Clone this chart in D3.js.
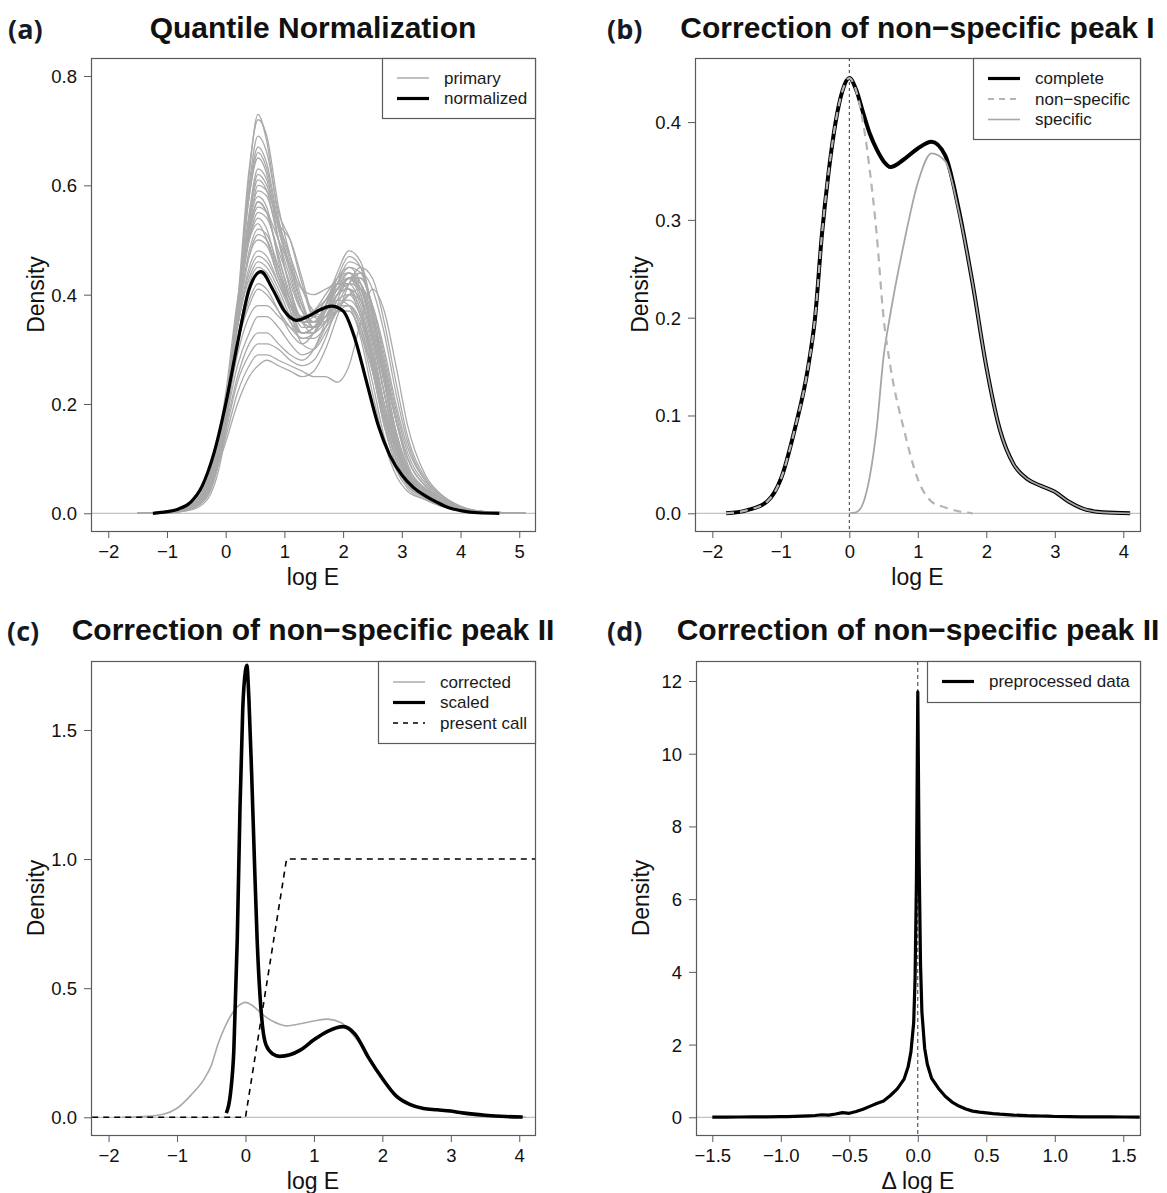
<!DOCTYPE html>
<html>
<head>
<meta charset="utf-8">
<script src="https://cdn.jsdelivr.net/npm/d3@7"></script>
<style>
  body { margin: 0; background: #fff; }
  svg { display: block; }
</style>
</head>
<body>
<svg id="fig" width="1167" height="1193"></svg>
<script>
// ---------------------------------------------------------------
// (a) Quantile normalization: raw array densities + normalized one
// ---------------------------------------------------------------
const primaryGrid = [-1.5,-1.0,-0.7,-0.45,-0.2,0.0,0.2,0.4,0.55,0.7,0.9,1.1,1.3,1.5,1.7,1.9,2.1,2.3,2.5,2.7,2.9,3.1,3.4,3.7,4.0,4.4,5.1];
const primaryDensities = [
  [0,0.001,0.004,0.012,0.05,0.15,0.36,0.62,0.73,0.68,0.54,0.46,0.38,0.35,0.37,0.39,0.38,0.32,0.22,0.13,0.07,0.04,0.025,0.012,0.005,0.001,0],
  [0,0.001,0.005,0.015,0.06,0.17,0.38,0.63,0.72,0.69,0.56,0.47,0.39,0.34,0.35,0.37,0.37,0.33,0.24,0.14,0.08,0.045,0.025,0.012,0.005,0.001,0],
  [0,0.001,0.005,0.016,0.06,0.16,0.36,0.60,0.69,0.66,0.55,0.50,0.42,0.36,0.36,0.38,0.38,0.34,0.26,0.16,0.09,0.05,0.028,0.014,0.006,0.001,0],
  [0,0.002,0.006,0.018,0.07,0.18,0.38,0.58,0.66,0.63,0.52,0.44,0.37,0.34,0.36,0.39,0.40,0.36,0.27,0.17,0.10,0.055,0.03,0.015,0.006,0.001,0],
  [0,0.002,0.006,0.02,0.07,0.18,0.37,0.55,0.63,0.61,0.52,0.45,0.38,0.35,0.37,0.40,0.41,0.37,0.28,0.18,0.10,0.055,0.03,0.015,0.006,0.001,0],
  [0,0.002,0.007,0.022,0.08,0.19,0.37,0.54,0.61,0.59,0.50,0.41,0.35,0.34,0.37,0.41,0.43,0.40,0.31,0.20,0.11,0.06,0.032,0.016,0.006,0.001,0],
  [0,0.002,0.006,0.02,0.075,0.19,0.37,0.53,0.59,0.58,0.50,0.43,0.37,0.35,0.38,0.42,0.44,0.41,0.33,0.22,0.12,0.065,0.035,0.017,0.007,0.002,0],
  [0,0.002,0.007,0.024,0.085,0.20,0.38,0.52,0.57,0.55,0.47,0.40,0.35,0.34,0.38,0.43,0.45,0.42,0.33,0.22,0.12,0.065,0.035,0.017,0.007,0.002,0],
  [0,0.002,0.007,0.022,0.08,0.19,0.36,0.50,0.55,0.54,0.48,0.42,0.37,0.36,0.39,0.42,0.42,0.38,0.29,0.19,0.11,0.06,0.033,0.016,0.007,0.002,0],
  [0,0.002,0.008,0.025,0.09,0.20,0.37,0.50,0.54,0.52,0.44,0.38,0.33,0.33,0.37,0.42,0.46,0.45,0.37,0.25,0.14,0.07,0.035,0.017,0.007,0.002,0],
  [0,0.002,0.007,0.022,0.08,0.19,0.35,0.48,0.52,0.51,0.45,0.39,0.35,0.35,0.38,0.41,0.43,0.41,0.34,0.24,0.14,0.075,0.04,0.02,0.008,0.002,0],
  [0,0.002,0.008,0.025,0.085,0.20,0.35,0.47,0.50,0.49,0.43,0.38,0.35,0.36,0.39,0.42,0.43,0.39,0.30,0.20,0.12,0.065,0.036,0.018,0.008,0.002,0],
  [0,0.002,0.006,0.019,0.07,0.17,0.35,0.52,0.60,0.59,0.53,0.47,0.41,0.37,0.36,0.37,0.37,0.33,0.26,0.18,0.12,0.075,0.045,0.025,0.01,0.003,0],
  [0,0.002,0.006,0.02,0.07,0.17,0.35,0.54,0.62,0.60,0.53,0.50,0.43,0.36,0.35,0.37,0.38,0.35,0.27,0.17,0.10,0.055,0.03,0.015,0.006,0.001,0],
  [0,0.002,0.008,0.026,0.09,0.20,0.34,0.45,0.48,0.47,0.42,0.37,0.33,0.33,0.37,0.41,0.44,0.42,0.35,0.25,0.15,0.08,0.04,0.02,0.008,0.002,0],
  [0,0.003,0.009,0.028,0.095,0.20,0.34,0.43,0.46,0.45,0.41,0.36,0.33,0.34,0.38,0.43,0.47,0.45,0.36,0.24,0.13,0.07,0.036,0.018,0.008,0.002,0],
  [0,0.003,0.009,0.027,0.09,0.19,0.32,0.41,0.44,0.43,0.39,0.35,0.33,0.34,0.38,0.42,0.45,0.44,0.37,0.27,0.17,0.09,0.045,0.022,0.009,0.002,0],
  [0,0.003,0.009,0.028,0.09,0.19,0.31,0.39,0.42,0.41,0.37,0.33,0.31,0.33,0.38,0.44,0.48,0.46,0.37,0.25,0.14,0.07,0.035,0.017,0.007,0.002,0],
  [0,0.003,0.01,0.03,0.095,0.19,0.31,0.38,0.41,0.40,0.37,0.34,0.32,0.33,0.36,0.40,0.42,0.41,0.35,0.26,0.17,0.10,0.05,0.025,0.01,0.003,0],
  [0,0.002,0.007,0.022,0.075,0.17,0.31,0.42,0.45,0.44,0.40,0.35,0.32,0.32,0.34,0.37,0.40,0.41,0.38,0.30,0.20,0.12,0.06,0.03,0.012,0.003,0],
  [0,0.003,0.01,0.03,0.085,0.16,0.25,0.31,0.33,0.33,0.31,0.29,0.28,0.30,0.35,0.40,0.43,0.43,0.38,0.29,0.19,0.11,0.055,0.027,0.011,0.003,0],
  [0,0.003,0.01,0.03,0.08,0.15,0.24,0.29,0.31,0.31,0.30,0.28,0.27,0.28,0.32,0.38,0.42,0.44,0.41,0.33,0.22,0.13,0.06,0.03,0.012,0.003,0],
  [0,0.003,0.01,0.028,0.075,0.14,0.22,0.27,0.29,0.29,0.28,0.27,0.26,0.25,0.25,0.24,0.27,0.35,0.41,0.37,0.27,0.16,0.07,0.032,0.013,0.003,0],
  [0,0.003,0.009,0.026,0.07,0.13,0.20,0.25,0.27,0.28,0.27,0.26,0.25,0.26,0.30,0.36,0.42,0.45,0.43,0.35,0.24,0.14,0.065,0.03,0.012,0.003,0],
  [0,0.002,0.007,0.022,0.08,0.19,0.37,0.53,0.58,0.56,0.46,0.37,0.31,0.30,0.33,0.37,0.40,0.39,0.32,0.22,0.13,0.07,0.036,0.018,0.007,0.002,0],
  [0,0.001,0.005,0.017,0.065,0.17,0.37,0.58,0.65,0.62,0.50,0.41,0.35,0.33,0.35,0.38,0.39,0.36,0.28,0.18,0.10,0.055,0.03,0.015,0.006,0.001,0],
  [0,0.003,0.009,0.03,0.10,0.22,0.39,0.50,0.53,0.50,0.43,0.38,0.36,0.37,0.39,0.41,0.41,0.37,0.29,0.20,0.12,0.07,0.04,0.02,0.008,0.002,0],
  [0,0.003,0.01,0.03,0.09,0.18,0.29,0.36,0.38,0.38,0.36,0.34,0.33,0.34,0.37,0.41,0.43,0.42,0.36,0.27,0.17,0.10,0.05,0.025,0.01,0.003,0],
  [0,0.002,0.007,0.022,0.08,0.19,0.36,0.51,0.57,0.55,0.47,0.39,0.34,0.34,0.37,0.41,0.43,0.44,0.37,0.26,0.15,0.08,0.04,0.02,0.008,0.002,0],
  [0,0.002,0.008,0.025,0.088,0.20,0.35,0.47,0.51,0.50,0.44,0.39,0.36,0.37,0.40,0.43,0.44,0.40,0.32,0.22,0.13,0.07,0.037,0.018,0.008,0.002,0],
  [0,0.003,0.009,0.027,0.092,0.20,0.34,0.44,0.47,0.46,0.42,0.38,0.35,0.35,0.37,0.40,0.41,0.39,0.33,0.24,0.15,0.085,0.042,0.021,0.009,0.002,0],
  [0,0.002,0.006,0.02,0.075,0.18,0.36,0.51,0.56,0.55,0.50,0.45,0.41,0.40,0.41,0.42,0.41,0.36,0.28,0.18,0.10,0.055,0.03,0.015,0.006,0.001,0],
  [0,0.003,0.01,0.03,0.09,0.17,0.27,0.33,0.36,0.36,0.34,0.31,0.29,0.30,0.34,0.39,0.43,0.43,0.38,0.28,0.18,0.10,0.05,0.025,0.01,0.003,0],
  [0,0.001,0.005,0.016,0.062,0.16,0.36,0.59,0.67,0.64,0.53,0.45,0.38,0.35,0.36,0.38,0.38,0.34,0.26,0.16,0.09,0.05,0.028,0.014,0.006,0.001,0]
];
const normalizedX = [-1.24,-1.0,-0.8,-0.6,-0.4,-0.2,0,0.2,0.4,0.6,0.8,1.0,1.2,1.4,1.6,1.8,2.0,2.2,2.4,2.6,2.8,3.0,3.2,3.4,3.6,3.8,4.0,4.3,4.66];
const normalizedY = [0,0.003,0.008,0.02,0.05,0.11,0.2,0.31,0.41,0.442,0.41,0.37,0.353,0.36,0.372,0.379,0.37,0.32,0.24,0.16,0.105,0.07,0.047,0.032,0.02,0.01,0.005,0.001,0];
const ticksAx = [-2,-1,0,1,2,3,4,5];
const ticksAy = [0,0.2,0.4,0.6,0.8];

// ---------------------------------------------------------------
// (b) complete density split into non-specific and specific parts
// ---------------------------------------------------------------
const gridB = [-1.8,-1.5,-1.2,-1.0,-0.8,-0.6,-0.5,-0.4,-0.3,-0.2,-0.1,0,0.1,0.2,0.3,0.4,0.5,0.6,0.8,1.0,1.2,1.4,1.6,1.8,2.0,2.2,2.4,2.6,2.8,3.0,3.2,3.4,3.7,4.1];
const completeDensity = [0,0.003,0.012,0.035,0.085,0.15,0.2,0.285,0.35,0.40,0.432,0.445,0.433,0.41,0.388,0.372,0.36,0.354,0.362,0.373,0.38,0.366,0.31,0.235,0.15,0.085,0.05,0.035,0.028,0.022,0.012,0.005,0.001,0];
const nonSpecificDensity = [0,0.003,0.012,0.035,0.085,0.15,0.2,0.285,0.35,0.40,0.432,0.445,0.432,0.40,0.35,0.285,0.2,0.15,0.085,0.035,0.012,0.006,0.002,0,null,null,null,null,null,null,null,null,null,null];
const specificDensity = [null,null,null,null,null,null,null,null,null,null,null,0,0.001,0.01,0.038,0.087,0.16,0.204,0.277,0.338,0.368,0.36,0.308,0.235,0.15,0.085,0.05,0.035,0.028,0.022,0.012,0.005,0.001,0];
const ticksBx = [-2,-1,0,1,2,3,4];
const ticksBy = [0,0.1,0.2,0.3,0.4];

// ---------------------------------------------------------------
// (c) corrected vs. scaled density and the present-call ramp
// ---------------------------------------------------------------
const correctedDensity = completeDensity;
const scaledX = [-0.28,-0.22,-0.17,-0.12,-0.08,-0.04,0,0.02,0.05,0.09,0.13,0.17,0.21,0.25,0.3,0.4,0.5,0.65,0.8,1.0,1.2,1.43,1.6,1.8,2.0,2.2,2.4,2.6,2.8,3.0,3.2,3.5,3.8,4.05];
const scaledY = [0.016,0.09,0.26,0.69,1.2,1.58,1.73,1.75,1.62,1.33,1.0,0.69,0.48,0.35,0.28,0.245,0.236,0.242,0.26,0.3,0.333,0.351,0.322,0.23,0.15,0.083,0.05,0.034,0.029,0.024,0.016,0.008,0.003,0.001];
const presentCallX = [-2.4,0,0.6,4.4];
const presentCallY = [0,0,1,1];
const ticksCx = [-2,-1,0,1,2,3,4];
const ticksCy = [0,0.5,1.0,1.5];

// ---------------------------------------------------------------
// (d) density of the preprocessed log-expression differences
// ---------------------------------------------------------------
const deltaX = [-1.5,-1.4,-1.3,-1.2,-1.1,-1.0,-0.95,-0.9,-0.85,-0.8,-0.75,-0.7,-0.65,-0.6,-0.55,-0.5,-0.45,-0.4,-0.35,-0.3,-0.25,-0.2,-0.15,-0.1,-0.07,-0.05,-0.03,-0.02,-0.01,0,0.01,0.02,0.03,0.05,0.07,0.1,0.15,0.2,0.25,0.3,0.35,0.4,0.45,0.5,0.55,0.6,0.65,0.7,0.75,0.8,0.85,0.9,0.95,1.0,1.1,1.2,1.3,1.4,1.5,1.62];
const deltaDensity = [0.005,0.006,0.008,0.01,0.012,0.018,0.02,0.026,0.03,0.038,0.05,0.07,0.06,0.09,0.13,0.11,0.16,0.22,0.3,0.38,0.45,0.6,0.78,1.05,1.4,1.8,2.6,3.8,6.5,11.7,7.0,4.2,2.9,1.9,1.45,1.08,0.8,0.58,0.42,0.31,0.23,0.17,0.14,0.12,0.1,0.085,0.075,0.06,0.055,0.045,0.04,0.035,0.03,0.022,0.02,0.012,0.01,0.012,0.008,0.006];
const ticksDx = [-1.5,-1.0,-0.5,0,0.5,1.0,1.5];
const ticksDy = [0,2,4,6,8,10,12];

// ---------------------------------------------------------------
const svg = d3.select("#fig");
const SANS = "'Liberation Sans', Arial, Helvetica, sans-serif";
const FRAME = "#5a5a5a";

function frame(p) {
  const x = d3.scaleLinear().domain(p.xDomain).range([p.left, p.right]);
  const y = d3.scaleLinear().domain(p.yDomain).range([p.bottom, p.top]);
  const g = svg.append("g");
  const cid = "clip-" + p.id;
  svg.append("clipPath").attr("id", cid).append("rect")
    .attr("x", p.left).attr("y", p.top)
    .attr("width", p.right - p.left).attr("height", p.bottom - p.top);
  const plot = g.append("g").attr("clip-path", `url(#${cid})`);

  // horizontal reference line at zero density
  plot.append("line")
    .attr("x1", p.left).attr("x2", p.right)
    .attr("y1", y(0)).attr("y2", y(0))
    .attr("stroke", "#b3b3b3").attr("stroke-width", 1);

  // bottom axis
  const ax = g.append("g")
    .attr("transform", `translate(0,${p.bottom})`)
    .call(d3.axisBottom(x).tickValues(p.xTicks).tickFormat(d3.format(p.xFmt)).tickSize(7).tickSizeOuter(0));
  ax.attr("font-family", SANS).attr("font-size", 18.5);
  ax.select(".domain").remove();
  ax.selectAll(".tick line").attr("stroke", FRAME);
  ax.selectAll(".tick text").attr("y", 27).attr("dy", null).attr("fill", "#111");

  // left axis
  const ay = g.append("g")
    .attr("transform", `translate(${p.left},0)`)
    .call(d3.axisLeft(y).tickValues(p.yTicks).tickFormat(d3.format(p.yFmt)).tickSize(7).tickSizeOuter(0));
  ay.attr("font-family", SANS).attr("font-size", 18.5);
  ay.select(".domain").remove();
  ay.selectAll(".tick line").attr("stroke", FRAME);
  ay.selectAll(".tick text").attr("x", -14).attr("dy", "0.35em").attr("fill", "#111");

  // plot frame
  g.append("rect")
    .attr("x", p.left + 0.5).attr("y", p.top + 0.5)
    .attr("width", p.right - p.left).attr("height", p.bottom - p.top)
    .attr("fill", "none").attr("stroke", FRAME).attr("stroke-width", 1.2);

  // axis titles
  g.append("text")
    .attr("x", (p.left + p.right) / 2).attr("y", p.bottom + 54)
    .attr("text-anchor", "middle").attr("font-family", SANS).attr("font-size", 23)
    .attr("fill", "#111").text(p.xTitle);
  g.append("text")
    .attr("transform", `translate(${p.left - 47},${(p.top + p.bottom) / 2}) rotate(-90)`)
    .attr("text-anchor", "middle").attr("font-family", SANS).attr("font-size", 23)
    .attr("fill", "#111").text("Density");

  // main title and panel letter
  g.append("text")
    .attr("x", (p.left + p.right) / 2).attr("y", p.titleY)
    .attr("text-anchor", "middle").attr("font-family", SANS).attr("font-weight", "bold")
    .attr("font-size", 30).attr("fill", "#111").text(p.title);
  g.append("text")
    .attr("x", p.letterX).attr("y", p.titleY + 1)
    .attr("font-family", "'Open Sans', Lato, sans-serif").attr("font-weight", "bold")
    .attr("font-size", 27).attr("fill", "#151a28").text(p.letter);

  return { g, plot, x, y };
}

function legend(g, p, items) {
  g.append("rect")
    .attr("x", p.legLeft + 0.5).attr("y", p.top + 0.5)
    .attr("width", p.right - p.legLeft).attr("height", p.legBottom - p.top)
    .attr("fill", "#fff").attr("stroke", FRAME).attr("stroke-width", 1.2);
  items.forEach((it, i) => {
    const yy = p.legRow0 + i * 20.5;
    g.append("line")
      .attr("x1", p.legLeft + 15).attr("x2", p.legLeft + 47)
      .attr("y1", yy).attr("y2", yy)
      .attr("stroke", it.color).attr("stroke-width", it.width)
      .attr("stroke-dasharray", it.dash || null);
    g.append("text")
      .attr("x", p.legLeft + 62).attr("y", yy).attr("dy", "0.35em")
      .attr("font-family", SANS).attr("font-size", 17).attr("fill", "#1a1a1a")
      .text(it.label);
  });
}

function pathOf(x, y, xs, curve) {
  return d3.line()
    .defined(d => d != null)
    .x((d, i) => x(xs[i]))
    .y(d => y(d))
    .curve(curve || d3.curveMonotoneX);
}

// ---- panel (a)
{
  const p = { id: "a", left: 91, right: 535, top: 58, bottom: 531,
    xDomain: [-2.294, 5.268], yDomain: [-0.0324, 0.833],
    xTicks: ticksAx, yTicks: ticksAy, xFmt: "d", yFmt: ".1f",
    xTitle: "log E", title: "Quantile Normalization", letter: "(a)", letterX: 8, titleY: 38,
    legLeft: 382, legBottom: 118, legRow0: 78 };
  const { g, plot, x, y } = frame(p);
  const line = pathOf(x, y, primaryGrid);
  plot.selectAll("path.primary").data(primaryDensities).join("path")
    .attr("class", "primary").attr("d", line)
    .attr("fill", "none").attr("stroke", "#aaaaaa").attr("stroke-width", 1.3);
  plot.append("path").datum(normalizedY).attr("d", pathOf(x, y, normalizedX))
    .attr("fill", "none").attr("stroke", "#000").attr("stroke-width", 3.2);
  legend(g, p, [
    { label: "primary", color: "#b0b0b0", width: 1.6 },
    { label: "normalized", color: "#000", width: 3.2 }
  ]);
}

// ---- panel (b)
{
  const p = { id: "b", left: 695, right: 1140, top: 58, bottom: 531,
    xDomain: [-2.253, 4.244], yDomain: [-0.0181, 0.4655],
    xTicks: ticksBx, yTicks: ticksBy, xFmt: "d", yFmt: ".1f",
    xTitle: "log E", title: "Correction of non\u2212specific peak I", letter: "(b)", letterX: 607, titleY: 38,
    legLeft: 973, legBottom: 139, legRow0: 78.5 };
  const { g, plot, x, y } = frame(p);
  plot.append("line")
    .attr("x1", x(0)).attr("x2", x(0)).attr("y1", p.top).attr("y2", p.bottom)
    .attr("stroke", "#333").attr("stroke-width", 1).attr("stroke-dasharray", "3,3");
  plot.append("path").datum(completeDensity).attr("d", pathOf(x, y, gridB))
    .attr("fill", "none").attr("stroke", "#000").attr("stroke-width", 4);
  plot.append("path").datum(specificDensity).attr("d", pathOf(x, y, gridB))
    .attr("fill", "none").attr("stroke", "#a6a6a6").attr("stroke-width", 1.8);
  plot.append("path").datum(nonSpecificDensity).attr("d", pathOf(x, y, gridB))
    .attr("fill", "none").attr("stroke", "#b4b4b4").attr("stroke-width", 2.2)
    .attr("stroke-dasharray", "8,6");
  legend(g, p, [
    { label: "complete", color: "#000", width: 3.2 },
    { label: "non\u2212specific", color: "#b4b4b4", width: 2, dash: "6,5" },
    { label: "specific", color: "#a6a6a6", width: 1.6 }
  ]);
}

// ---- panel (c)
{
  const p = { id: "c", left: 91, right: 535, top: 661, bottom: 1135,
    xDomain: [-2.257, 4.23], yDomain: [-0.0686, 1.767],
    xTicks: ticksCx, yTicks: ticksCy, xFmt: "d", yFmt: ".1f",
    xTitle: "log E", title: "Correction of non\u2212specific peak II", letter: "(c)", letterX: 7, titleY: 640,
    legLeft: 378, legBottom: 743, legRow0: 682 };
  const { g, plot, x, y } = frame(p);
  plot.append("path").datum(correctedDensity).attr("d", pathOf(x, y, gridB))
    .attr("fill", "none").attr("stroke", "#aaaaaa").attr("stroke-width", 1.6);
  plot.append("path").datum(presentCallY).attr("d", pathOf(x, y, presentCallX, d3.curveLinear))
    .attr("fill", "none").attr("stroke", "#000").attr("stroke-width", 1.6)
    .attr("stroke-dasharray", "6,5");
  plot.append("path").datum(scaledY).attr("d", pathOf(x, y, scaledX))
    .attr("fill", "none").attr("stroke", "#000").attr("stroke-width", 3.6);
  legend(g, p, [
    { label: "corrected", color: "#b0b0b0", width: 1.6 },
    { label: "scaled", color: "#000", width: 3.2 },
    { label: "present call", color: "#000", width: 1.6, dash: "5,5" }
  ]);
}

// ---- panel (d)
{
  const p = { id: "d", left: 696, right: 1140, top: 661, bottom: 1135,
    xDomain: [-1.619, 1.622], yDomain: [-0.487, 12.55],
    xTicks: ticksDx, yTicks: ticksDy, xFmt: ".1f", yFmt: "d",
    xTitle: "\u0394 log E", title: "Correction of non\u2212specific peak II", letter: "(d)", letterX: 607, titleY: 640,
    legLeft: 927, legBottom: 702, legRow0: 681.5 };
  const { g, plot, x, y } = frame(p);
  plot.append("line")
    .attr("x1", x(0)).attr("x2", x(0)).attr("y1", p.top).attr("y2", p.bottom)
    .attr("stroke", "#333").attr("stroke-width", 1).attr("stroke-dasharray", "4,3");
  plot.append("path").datum(deltaDensity).attr("d", pathOf(x, y, deltaX, d3.curveLinear))
    .attr("fill", "none").attr("stroke", "#000").attr("stroke-width", 3.2)
    .attr("stroke-linejoin", "round");
  legend(g, p, [
    { label: "preprocessed data", color: "#000", width: 3.2 }
  ]);
}
</script>
</body>
</html>
